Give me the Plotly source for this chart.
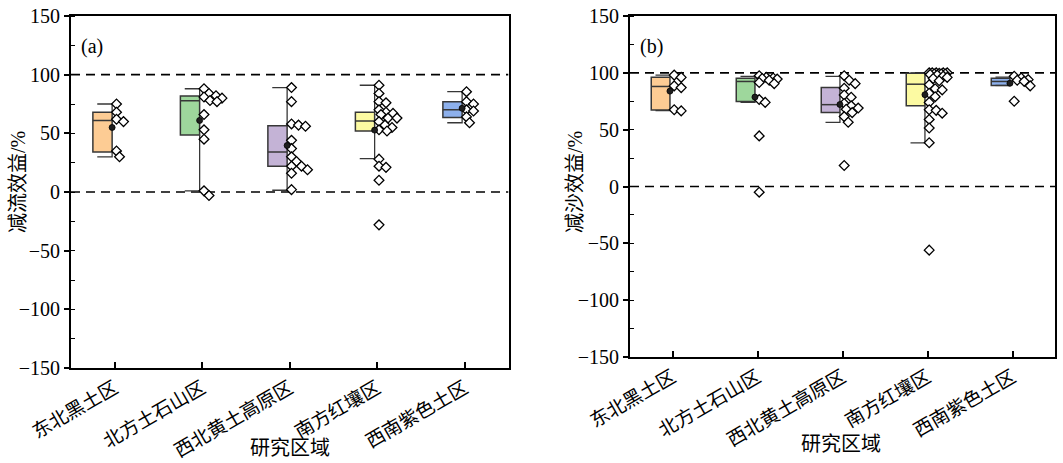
import numpy as np
import plotly.graph_objects as go

# ---------------- data ----------------
regions = ["东北黑土区", "北方土石山区", "西北黄土高原区", "南方红壤区", "西南紫色土区"]

# (a) runoff reduction benefit, % — individual observations per region
runoff_ne = [75, 68, 62, 60, 35, 30]
runoff_n = [88, 84, 82, 81, 80, 78, 77, 66, 53, 45, 1, -3]
runoff_nw = [89, 77, 58, 57, 56, 44, 37, 30, 26, 22, 22, 19, 16, 2]
runoff_s = [91, 84, 77, 76, 70, 68, 67, 66, 63, 63, 60, 57, 55, 53, 52, 28, 22, 21, 10, -28]
runoff_sw = [85.5, 77, 75, 70, 69, 64, 59]

# (a) box statistics per region
runoff_lo = [30, 1, 1.5, 28.4, 59]
runoff_q1 = [34, 48.6, 22, 52, 63.6]
runoff_med = [61, 77.8, 34, 60.5, 70]
runoff_q3 = [68, 81.8, 56.5, 68, 77]
runoff_hi = [75, 88, 89, 91, 85.5]

# (b) sediment reduction benefit, % — individual observations per region
sed_ne = [98, 96, 88.5, 87, 67.5, 66.5]
sed_n = [97.5, 96, 95.5, 95, 94.5, 93.5, 91.5, 90.5, 76.5, 74, 44.5, -5]
sed_nw = [97.5, 93.5, 90.5, 86.5, 80.5, 78.5, 73, 71, 69, 68, 65, 61.5, 56.5, 18.5]
sed_s = [100, 100, 100, 100, 100, 99.5, 99, 99, 99, 98.5, 98, 97, 96, 95, 93,
         89.5, 86, 85, 82, 79, 74, 67.5, 67, 64.5, 59, 51.5, 38.5, -56]
sed_sw = [97, 95.5, 94, 93.5, 92.5, 88.5, 75]

# (b) box statistics per region
sed_lo = [66.7, 74, 56.4, 38.3, 88.9]
sed_q1 = [67.3, 74.8, 65.2, 71, 88.9]
sed_med = [88, 92.4, 72, 90, 92.4]
sed_q3 = [96.2, 95.3, 87.1, 99.7, 95.3]
sed_hi = [98, 96.8, 96.8, 100, 96.2]

y_ticks = [-150, -100, -50, 0, 50, 100, 150]

# ---------------- styling ----------------
fill_colors = ["rgb(253,204,148)", "rgb(158,215,156)", "rgb(196,179,214)",
               "rgb(252,250,162)", "rgb(141,176,236)"]
edge = "rgb(55,55,55)"
FONT = "Liberation Serif, Noto Sans CJK SC, serif"

W, H = 1063, 463
# plot areas in pixels: (left, right, top, bottom)
panels = [
    dict(box=(71, 508.5, 16, 368), pts=[runoff_ne, runoff_n, runoff_nw, runoff_s, runoff_sw],
         lo=runoff_lo, q1=runoff_q1, med=runoff_med, q3=runoff_q3, hi=runoff_hi,
         ytitle="减流效益/%", tag="(a)", ytitle_x=18, xtitle_pos=(290, 448)),
    dict(box=(630, 1055, 16, 357), pts=[sed_ne, sed_n, sed_nw, sed_s, sed_sw],
         lo=sed_lo, q1=sed_q1, med=sed_med, q3=sed_q3, hi=sed_hi,
         ytitle="减沙效益/%", tag="(b)", ytitle_x=575, xtitle_pos=(841, 444)),
]

BOX_L, BOX_R = -0.25, -0.03   # box extent relative to category centre
CAP_L = -0.20


def swarm_offsets(values, px_per_x, px_per_y, diam=6.5, max_px=18):
    """Deterministic beeswarm: push points right of the whisker until they don't collide."""
    vals = np.asarray(values, dtype=float)
    order = np.argsort(-vals, kind="stable")
    placed = []
    offs = np.zeros(len(vals))
    for idx in order:
        y = vals[idx] * px_per_y
        best, best_d = 0.0, -1.0
        for xo in np.arange(0, max_px + 0.01, 1.0):
            d = min([np.hypot(xo - px, y - py) for px, py in placed], default=1e9)
            if d >= diam:
                best = xo
                break
            if d > best_d:
                best, best_d = xo, d
        placed.append((best, y))
        offs[idx] = best
    return 0.02 + offs / px_per_x


fig = go.Figure()
shapes, annotations = [], []

for p, pan in enumerate(panels):
    L, R, T, B = pan["box"]
    xa = "x" if p == 0 else "x2"
    ya = "y" if p == 0 else "y2"
    px_x = (R - L) / 5.0
    px_y = (B - T) / 300.0

    # reference lines at 0 and 100
    for yv in (0, 100):
        shapes.append(dict(type="line", xref=xa, yref=ya, x0=-0.5, x1=4.5, y0=yv, y1=yv,
                           line=dict(color="black", width=1.7, dash="9px,6px"), layer="below"))

    for i in range(5):
        # box
        shapes.append(dict(type="rect", xref=xa, yref=ya, x0=i + BOX_L, x1=i + BOX_R,
                           y0=pan["q1"][i], y1=pan["q3"][i], fillcolor=fill_colors[i],
                           line=dict(color=edge, width=1.5), layer="below"))
        # median
        shapes.append(dict(type="line", xref=xa, yref=ya, x0=i + BOX_L, x1=i + BOX_R,
                           y0=pan["med"][i], y1=pan["med"][i],
                           line=dict(color=edge, width=1.5), layer="below"))
        # whisker + caps
        fig.add_trace(go.Scatter(
            x=[i + CAP_L, i + BOX_R, i + BOX_R, None, i + BOX_R, i + BOX_R, i + CAP_L],
            y=[pan["hi"][i], pan["hi"][i], pan["q3"][i], None, pan["q1"][i], pan["lo"][i], pan["lo"][i]],
            mode="lines", line=dict(color=edge, width=1.3), xaxis=xa, yaxis=ya,
            hoverinfo="skip", showlegend=False))
        # observations
        vals = pan["pts"][i]
        offs = swarm_offsets(vals, px_x, px_y)
        fig.add_trace(go.Scatter(
            x=i + offs, y=vals, mode="markers", xaxis=xa, yaxis=ya, showlegend=False,
            marker=dict(symbol="diamond", size=7.5, color="white",
                        line=dict(color="black", width=1.3))))
        # mean
        fig.add_trace(go.Scatter(
            x=[i + BOX_R], y=[float(np.mean(vals))], mode="markers", xaxis=xa, yaxis=ya,
            showlegend=False, marker=dict(symbol="circle", size=6, color="rgb(30,30,30)",
                                          line=dict(color="black", width=0.8))))

    # panel tag
    annotations.append(dict(xref="paper", yref="paper", x=(L + 8) / W, y=1 - 46 / H,
                            text=pan["tag"], showarrow=False, xanchor="left", yanchor="middle",
                            font=dict(family=FONT, size=20, color="black")))
    # axis titles
    annotations.append(dict(xref="paper", yref="paper", x=pan["ytitle_x"] / W, y=1 - 182 / H,
                            text=pan["ytitle"], showarrow=False, textangle=-90,
                            xanchor="center", yanchor="middle",
                            font=dict(family=FONT, size=20, color="black")))
    annotations.append(dict(xref="paper", yref="paper", x=pan["xtitle_pos"][0] / W,
                            y=1 - pan["xtitle_pos"][1] / H, text="研究区域", showarrow=False,
                            xanchor="center", yanchor="middle",
                            font=dict(family=FONT, size=20, color="black")))

    xdom = [L / W, R / W]
    ydom = [1 - B / H, 1 - T / H]
    xax = dict(domain=xdom, range=[-0.5, 4.5], tickvals=list(range(5)), ticktext=regions,
               tickangle=-30, ticks="inside", ticklen=6, tickwidth=1.5, tickcolor="black",
               showline=True, linecolor="black", linewidth=2, mirror=True,
               showgrid=False, zeroline=False, automargin=False, anchor=ya,
               tickfont=dict(family=FONT, size=19, color="black"))
    yax = dict(domain=ydom, range=[-150, 150], tickvals=y_ticks, ticks="outside", ticklen=5,
               tickwidth=1.5, tickcolor="black",
               minor=dict(ticks="inside", dtick=25, ticklen=4, tickwidth=1.2, tickcolor="black",
                          showgrid=False),
               showline=True, linecolor="black", linewidth=2, mirror=True,
               showgrid=False, zeroline=False, automargin=False, anchor=xa,
               tickfont=dict(family=FONT, size=20, color="black"))
    if p == 0:
        fig.update_layout(xaxis=xax, yaxis=yax)
    else:
        fig.update_layout(xaxis2=xax, yaxis2=yax)

fig.update_layout(
    width=W, height=H, margin=dict(l=0, r=0, t=0, b=0),
    paper_bgcolor="white", plot_bgcolor="white", template="none",
    shapes=shapes, annotations=annotations, showlegend=False,
    font=dict(family=FONT, color="black"),
)

fig.write_html("out.html")
